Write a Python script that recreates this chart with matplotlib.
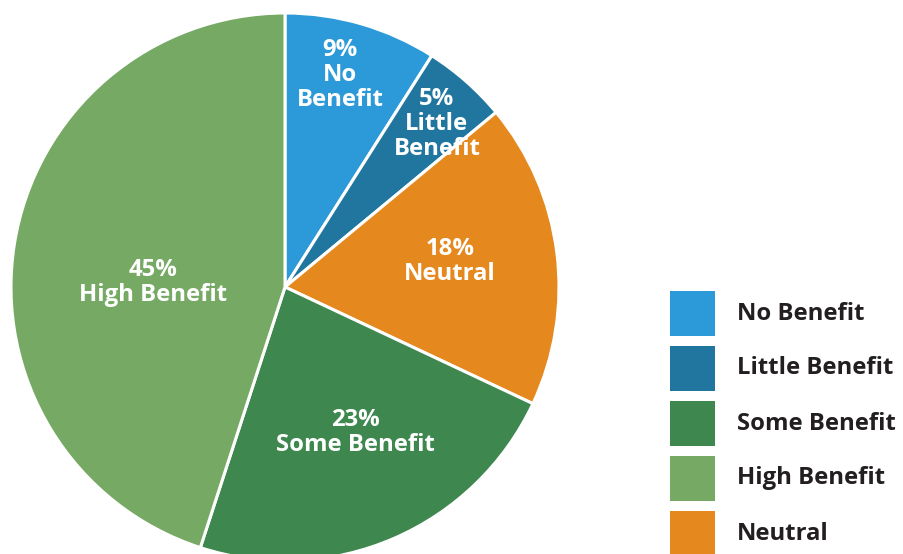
import numpy as np
import matplotlib.pyplot as plt
from matplotlib.patches import Rectangle

# slices, clockwise from 12 o'clock
slice_names = ["No Benefit", "Little Benefit", "Neutral", "Some Benefit", "High Benefit"]
slice_labels = ["9%\nNo\nBenefit", "5%\nLittle\nBenefit", "18%\nNeutral",
                "23%\nSome Benefit", "45%\nHigh Benefit"]
shares = [9, 5, 18, 23, 45]
colors = ["#2C9AD8", "#21769F", "#E5891E", "#3E874F", "#76A964"]

# legend order
legend_names = ["No Benefit", "Little Benefit", "Some Benefit", "High Benefit", "Neutral"]

# label placement: radius fraction and angle (deg, counterclockwise from 3 o'clock)
label_r = [0.80, 0.813, 0.61, 0.59, 0.482]
label_ang = [75.5, 47.0, 8.8, -64.0, 178.0]

plt.rcParams['font.family'] = ['Open Sans', 'DejaVu Sans']

W, H = 904, 554
fig = plt.figure(figsize=(W / 100, H / 100), dpi=100)

# pie axes placed in pixels: centre (285, 287), radius 274
cx, cy, R = 285, 287, 274
ax = fig.add_axes([(cx - R) / W, (H - cy - R) / H, 2 * R / W, 2 * R / H])
wedges, _ = ax.pie(shares, colors=colors, startangle=90, counterclock=False,
                   radius=1, wedgeprops=dict(edgecolor="white", linewidth=2.2))
ax.set_xlim(-1, 1)
ax.set_ylim(-1, 1)
ax.set_aspect("equal")
ax.axis("off")

for txt, r, a in zip(slice_labels, label_r, label_ang):
    t = np.deg2rad(a)
    ax.text(r * np.cos(t), r * np.sin(t), txt, ha="center", va="center",
            color="white", fontsize=17.2, fontweight="bold", linespacing=1.04)

# legend drawn in pixel coordinates
lax = fig.add_axes([0, 0, 1, 1], facecolor="none")
lax.set_xlim(0, W)
lax.set_ylim(H, 0)
lax.axis("off")
color_of = dict(zip(slice_names, colors))
for i, name in enumerate(legend_names):
    y0 = 291 + i * 55
    lax.add_patch(Rectangle((670, y0), 45, 45, facecolor=color_of[name], edgecolor="none"))
    lax.text(737, y0 + 22.5, name, ha="left", va="center", color="#231F20",
             fontsize=17.2, fontweight="bold")

fig.savefig("out.png", dpi=100)
